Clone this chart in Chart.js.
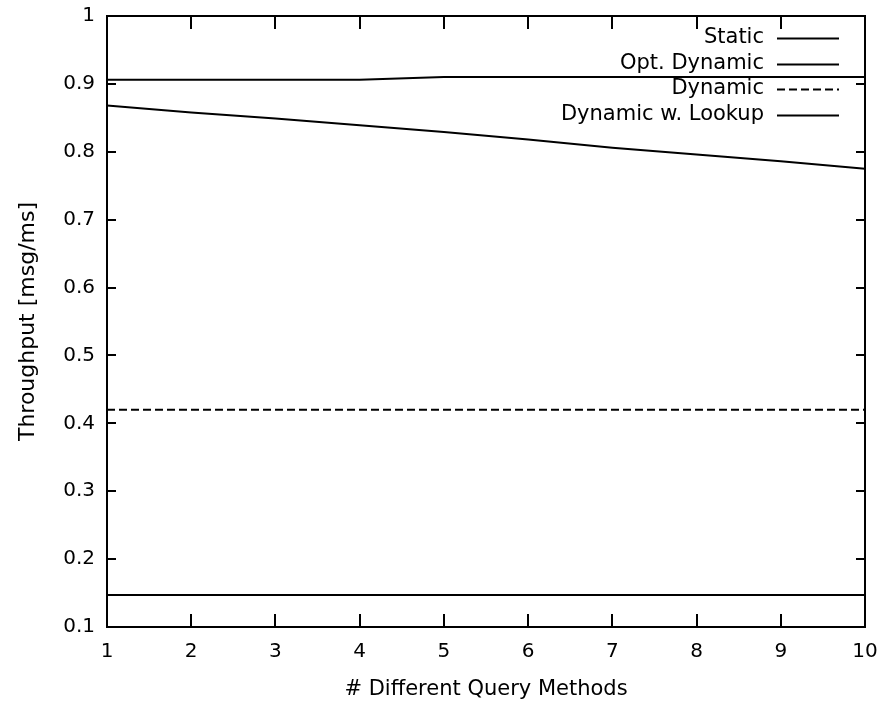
<!DOCTYPE html>
<html>
<head>
<meta charset="utf-8">
<script src="https://cdn.jsdelivr.net/npm/chart.js@4/dist/chart.umd.min.js"></script>
<style>
  html, body { margin: 0; padding: 0; background: #fff; }
  #wrap { width: 892px; height: 710px; }
</style>
</head>
<body>
<div id="wrap"><canvas id="c" width="892" height="710"></canvas></div>
<script>
// ---- data ----
const xValues = [1, 2, 3, 4, 5, 6, 7, 8, 9, 10];
const xTickLabels = ['1', '2', '3', '4', '5', '6', '7', '8', '9', '10'];
const yTickLabels = ['0.1', '0.2', '0.3', '0.4', '0.5', '0.6', '0.7', '0.8', '0.9', '1'];
const seriesNames = ['Static', 'Opt. Dynamic', 'Dynamic', 'Dynamic w. Lookup'];
const staticVals = [0.906, 0.906, 0.906, 0.906, 0.910, 0.910, 0.910, 0.910, 0.910, 0.910];
const optDynamicVals = [0.868, 0.858, 0.849, 0.839, 0.829, 0.818, 0.806, 0.796, 0.786, 0.775];
const dynamicVals = [0.420, 0.420, 0.420, 0.420, 0.420, 0.420, 0.420, 0.420, 0.420, 0.420];
const dynamicLookupVals = [0.147, 0.147, 0.147, 0.147, 0.147, 0.147, 0.147, 0.147, 0.147, 0.147];
const xTitle = '# Different Query Methods';
const yTitle = 'Throughput [msg/ms]';

const FONT = 'DejaVu Sans';
const toPts = vals => vals.map((v, i) => ({ x: xValues[i], y: v }));

const seriesValues = [staticVals, optDynamicVals, dynamicVals, dynamicLookupVals];
const dashes = [[], [], [8, 4], []];

const datasets = seriesNames.map((name, i) => ({
  label: name,
  data: toPts(seriesValues[i]),
  borderColor: '#000',
  backgroundColor: '#000',
  borderWidth: 2,
  borderDash: dashes[i],
  pointRadius: 0,
  tension: 0,
  fill: false
}));

// frame + inward ticks on all four sides
const framePlugin = {
  id: 'frame',
  afterDatasetsDraw(chart) {
    const { ctx, chartArea: a, scales } = chart;
    ctx.save();
    ctx.strokeStyle = '#000';
    ctx.lineWidth = 2;
    ctx.setLineDash([]);
    ctx.beginPath();
    scales.x.ticks.forEach(t => {
      const px = Math.round(scales.x.getPixelForValue(t.value));
      ctx.moveTo(px, a.bottom); ctx.lineTo(px, a.bottom - 13);
      ctx.moveTo(px, a.top); ctx.lineTo(px, a.top + 13);
    });
    scales.y.ticks.forEach(t => {
      const py = Math.round(scales.y.getPixelForValue(t.value));
      ctx.moveTo(a.left, py); ctx.lineTo(a.left + 9, py);
      ctx.moveTo(a.right, py); ctx.lineTo(a.right - 9, py);
    });
    ctx.stroke();
    ctx.strokeRect(a.left, a.top, a.right - a.left, a.bottom - a.top);
    ctx.restore();
  }
};

// gnuplot-style legend: right-aligned text followed by a line sample
const keyPlugin = {
  id: 'gkey',
  afterDatasetsDraw(chart) {
    const { ctx } = chart;
    ctx.save();
    ctx.font = '21px "' + FONT + '"';
    ctx.fillStyle = '#000';
    ctx.textAlign = 'right';
    ctx.textBaseline = 'middle';
    chart.data.datasets.forEach((ds, i) => {
      const y = 38 + i * 25.5;
      ctx.fillText(ds.label, 764, y);
      ctx.strokeStyle = ds.borderColor;
      ctx.lineWidth = 2;
      ctx.setLineDash(ds.borderDash || []);
      ctx.beginPath();
      ctx.moveTo(777, Math.round(y) + 0.5);
      ctx.lineTo(839, Math.round(y) + 0.5);
      ctx.stroke();
    });
    ctx.restore();
  }
};

new Chart(document.getElementById('c'), {
  type: 'line',
  data: { datasets },
  options: {
    responsive: false,
    animation: false,
    devicePixelRatio: 1,
    layout: { padding: { left: 0, right: 27, top: 16, bottom: 0 } },
    plugins: { legend: { display: false }, tooltip: { enabled: false } },
    scales: {
      x: {
        type: 'linear',
        min: 1, max: 10,
        afterFit: s => { s.height = 83; s.paddingLeft = 0; s.paddingRight = 0; },
        grid: { display: false, drawTicks: false },
        border: { display: false },
        ticks: {
          stepSize: 1,
          padding: 13,
          color: '#000',
          font: { family: FONT, size: 20 },
          maxRotation: 0,
          callback: v => xTickLabels[xValues.indexOf(Math.round(v))] ?? ''
        },
        title: {
          display: true, text: xTitle, color: '#000',
          font: { family: FONT, size: 21 },
          padding: { top: 0, bottom: 8 }
        }
      },
      y: {
        type: 'linear',
        min: 0.1, max: 1,
        afterFit: s => { s.width = 107; s.paddingTop = 0; s.paddingBottom = 0; },
        grid: { display: false, drawTicks: false },
        border: { display: false },
        ticks: {
          stepSize: 0.1,
          padding: 12,
          color: '#000',
          font: { family: FONT, size: 20 },
          callback: v => yTickLabels[Math.round(v * 10) - 1] ?? ''
        },
        title: {
          display: true, text: yTitle, color: '#000',
          font: { family: FONT, size: 22 },
          padding: { top: 15, bottom: 0 }
        }
      }
    }
  },
  plugins: [framePlugin, keyPlugin]
});
</script>
</body>
</html>
